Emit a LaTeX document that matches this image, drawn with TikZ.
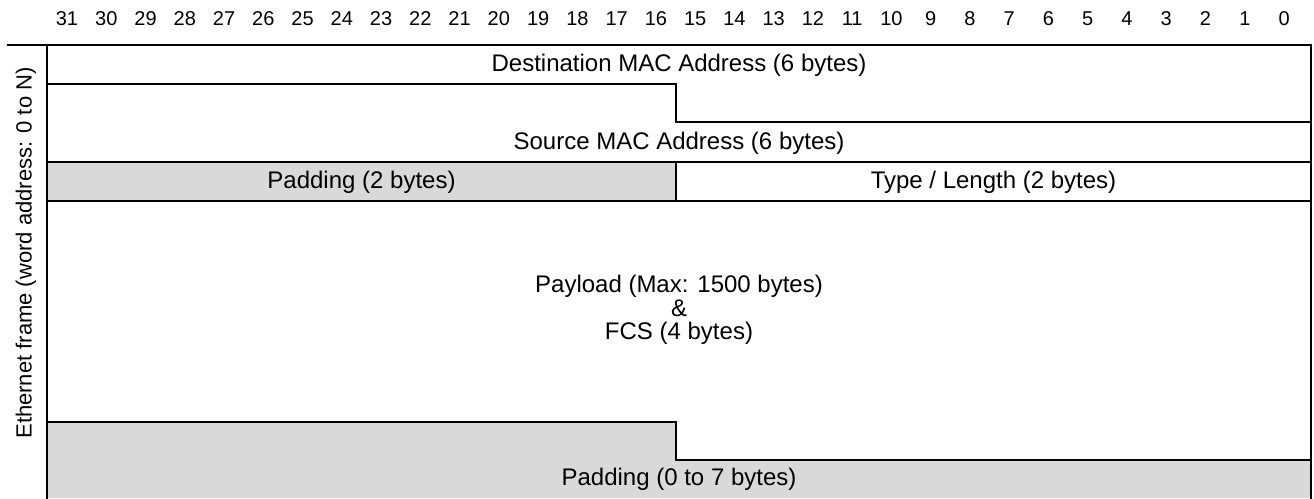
\documentclass[tikz,border=0pt]{standalone}
\usepackage{fontspec}
\setmainfont{Liberation Sans}
\definecolor{padgray}{HTML}{D9D9D9}
\tikzset{
  frameline/.style={line width=2.5pt, line cap=rect},
  lbl/.style={inner sep=0pt, font=\fontsize{24}{23.5}\selectfont, align=center},
  sidelbl/.style={inner sep=0pt, font=\fontsize{22}{24}\selectfont},
  bitnum/.style={inner sep=0pt, font=\fontsize{20}{22}\selectfont},
}
\begin{document}
\begin{tikzpicture}[x=1pt,y=-1pt]
\useasboundingbox (0,0) rectangle (1314,498);
% gray fills
\fill[padgray] (47,162) rectangle (676,201);
\fill[padgray] (47,422) -- (676,422) -- (676,460) -- (1311,460) -- (1311,498) -- (47,498) -- cycle;
% frame lines
\draw[frameline] (8,45) -- (1311,45);
\draw[frameline] (47,45) -- (47,498);
\draw[frameline] (1311,45) -- (1311,498);
\draw[frameline] (47,84) -- (676,84) -- (676,122) -- (1311,122);
\draw[frameline] (47,162) -- (1311,162);
\draw[frameline] (676,162) -- (676,201);
\draw[frameline] (47,201) -- (1311,201);
\draw[frameline] (47,422) -- (676,422) -- (676,460) -- (1311,460);
% bit numbers
\foreach \i in {0,...,31} {
  \node[bitnum] (b\i) at ({67+(31-\i)*39.26},18.5) {\i};
}
% field labels
\node[lbl] (dst) at (679,65.5) {Destination MAC Address (6 bytes)};
\node[lbl] (src) at (679,143) {Source MAC Address (6 bytes)};
\node[lbl] (pad2) at (361.5,182) {Padding (2 bytes)};
\node[lbl] (type) at (993.5,182) {Type / Length (2 bytes)};
\node[lbl] (pay) at (679,310) {Payload (Max: 1500 bytes)\\\&\\FCS (4 bytes)};
\node[lbl] (pad7) at (679,479.5) {Padding (0 to 7 bytes)};
\node[sidelbl, rotate=90] (side) at (26,253) {Ethernet frame (word address: 0 to N)};
\end{tikzpicture}
\end{document}
